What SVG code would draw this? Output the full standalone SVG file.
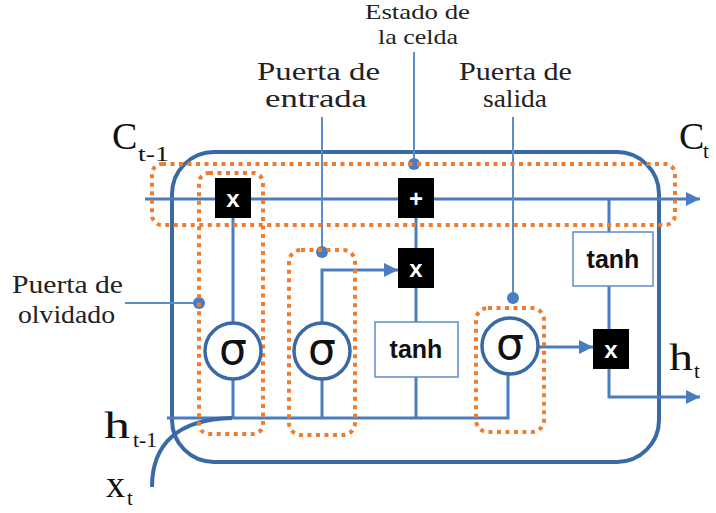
<svg xmlns="http://www.w3.org/2000/svg" width="716" height="513" viewBox="0 0 716 513">
<defs>
<marker id="arr" viewBox="0 0 10 10" refX="10" refY="5" markerUnits="userSpaceOnUse" markerWidth="17" markerHeight="14" orient="auto">
<path d="M0,0 L10,5 L0,10 z" fill="#4a7dbf"/>
</marker>
</defs>
<style>
.ln{fill:none;stroke:#4a7dbf;stroke-width:3}
.thin{fill:none;stroke:#5b8dcc;stroke-width:2}
.dot{fill:#4a7dbf}
.frame{fill:none;stroke:#3a6aa5;stroke-width:4}
.gate{fill:none;stroke:#ed7d31;stroke-width:4;stroke-dasharray:4 4.5}
.op{fill:#000}
.opt{font-family:"Liberation Sans",Arial,sans-serif;font-weight:bold;font-size:24px;fill:#fff;text-anchor:middle}
.sig{fill:#fff;stroke:#3a6aa5;stroke-width:3.5}
.sigt{font-family:"DejaVu Sans","Liberation Sans",sans-serif;font-size:44px;fill:#111;text-anchor:middle}
.tb{fill:#fff;stroke:#5b8dcc;stroke-width:1.5}
.tt{font-family:"Liberation Sans",Arial,sans-serif;font-weight:bold;font-size:25px;fill:#111;text-anchor:middle}
.lab{font-family:"Liberation Serif","Times New Roman",serif;font-size:25px;fill:#222}
.labs{font-family:"Liberation Serif","Times New Roman",serif;font-size:22px;fill:#222}
.big{font-family:"Liberation Serif","Times New Roman",serif;font-size:38px;fill:#111}
.sub{font-family:"Liberation Serif","Times New Roman",serif;font-size:21px;fill:#111}
</style>

<g id="frame">
<rect class="frame" x="172" y="152" width="487" height="310" rx="42"/>
</g>

<g id="connectors">
<path class="ln" d="M145,199 H700" marker-end="url(#arr)"/>
<path class="ln" d="M233,218 V323 M233,379 V418"/>
<path class="ln" d="M167,418 H508 V374"/>
<path class="ln" d="M322,379 V418"/>
<path class="ln" d="M322,323 V270 H398" marker-end="url(#arr)"/>
<path class="ln" d="M416,218 V248 M416,288 V322 M416,377 V418"/>
<path class="ln" d="M538,347 H593" marker-end="url(#arr)"/>
<path class="ln" d="M609,199 V232 M609,286 V329 M609,369 V397 H700" marker-end="url(#arr)"/>
<path class="frame" d="M152,487 C152,444 178,419 232,418"/>
<path class="thin" d="M414,52 V164"/>
<circle class="dot" cx="414" cy="164" r="6"/>
<path class="thin" d="M322,117 V252"/>
<circle class="dot" cx="322" cy="252" r="6"/>
<path class="thin" d="M513,117 V298"/>
<circle class="dot" cx="513" cy="298" r="6"/>
<path class="thin" d="M125,303 H199"/>
<circle class="dot" cx="199" cy="303" r="6"/>
</g>

<g id="gate-cell"><rect class="gate" x="152" y="164" width="523" height="61" rx="10"/></g>
<g id="gate-forget"><rect class="gate" x="199" y="173" width="64" height="261" rx="10"/></g>
<g id="gate-input"><rect class="gate" x="289" y="250" width="66" height="185" rx="12"/></g>
<g id="gate-output"><rect class="gate" x="476" y="308" width="68" height="124" rx="12"/></g>

<g id="mul-forget"><rect class="op" x="215" y="178" width="36" height="40"/><text class="opt" x="233" y="207">x</text></g>
<g id="add-cell"><rect class="op" x="398" y="178" width="36" height="40"/><text class="opt" x="416" y="207">+</text></g>
<g id="mul-input"><rect class="op" x="398" y="248" width="36" height="40"/><text class="opt" x="416" y="277">x</text></g>
<g id="mul-output"><rect class="op" x="593" y="329" width="36" height="40"/><text class="opt" x="611" y="358">x</text></g>

<g id="sigma-forget"><circle class="sig" cx="233" cy="351" r="28"/><text class="sigt" x="233" y="364">σ</text></g>
<g id="sigma-input"><circle class="sig" cx="322" cy="351" r="28"/><text class="sigt" x="322" y="364">σ</text></g>
<g id="sigma-output"><circle class="sig" cx="510" cy="346" r="28"/><text class="sigt" x="510" y="359">σ</text></g>

<g id="tanh-input"><rect class="tb" x="375" y="322" width="83" height="55"/><text class="tt" x="416" y="358">tanh</text></g>
<g id="tanh-output"><rect class="tb" x="573" y="232" width="80" height="54"/><text class="tt" x="613" y="268">tanh</text></g>

<g id="labels">
<text class="labs" x="365" y="19" textLength="105" lengthAdjust="spacingAndGlyphs">Estado de</text>
<text class="labs" x="378" y="44" textLength="80" lengthAdjust="spacingAndGlyphs">la celda</text>
<text class="lab" x="257" y="80" textLength="123" lengthAdjust="spacingAndGlyphs">Puerta de</text>
<text class="lab" x="265" y="107" textLength="102" lengthAdjust="spacingAndGlyphs">entrada</text>
<text class="lab" x="459" y="80" textLength="113" lengthAdjust="spacingAndGlyphs">Puerta de</text>
<text class="lab" x="483" y="107" textLength="64" lengthAdjust="spacingAndGlyphs">salida</text>
<text class="lab" x="12" y="293" textLength="111" lengthAdjust="spacingAndGlyphs">Puerta de</text>
<text class="lab" x="18" y="323" textLength="97" lengthAdjust="spacingAndGlyphs">olvidado</text>
</g>

<g id="var-labels">
<text class="big" x="112" y="149">C<tspan class="sub" x="138" y="161" textLength="31" lengthAdjust="spacingAndGlyphs">t-1</tspan></text>
<text class="big" x="679" y="149">C<tspan class="sub" x="703" y="158">t</tspan></text>
<text class="big" x="104" y="438" textLength="26" lengthAdjust="spacingAndGlyphs">h</text>
<text class="sub" x="133" y="447" textLength="24" lengthAdjust="spacingAndGlyphs">t-1</text>
<text class="big" x="106" y="497">x<tspan class="sub" x="127" y="505">t</tspan></text>
<text class="big" x="669" y="370" textLength="24" lengthAdjust="spacingAndGlyphs">h</text>
<text class="sub" x="694" y="378">t</text>
</g>
</svg>
